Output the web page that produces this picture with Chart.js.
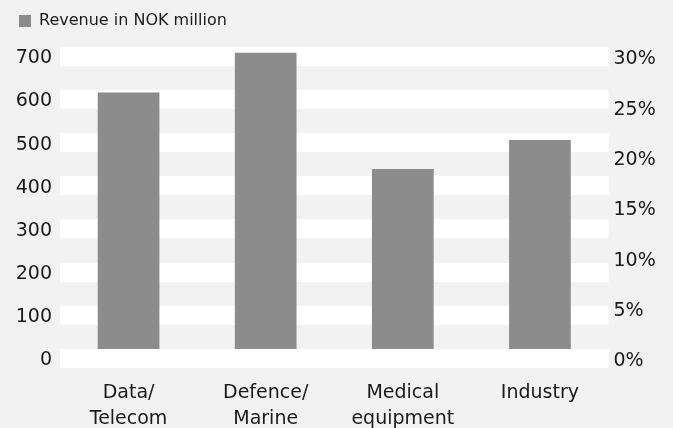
<!DOCTYPE html>
<html>
<head>
<meta charset="utf-8">
<script src="https://cdn.jsdelivr.net/npm/chart.js@4"></script>
<style>
  html, body { margin: 0; padding: 0; background: #f2f2f2; }
  #wrap { width: 673px; height: 428px; position: relative; }
</style>
</head>
<body>
<div id="wrap"><canvas id="c" width="673" height="428"></canvas></div>
<script>
const categories = [["Data/", "Telecom"], ["Defence/", "Marine"], ["Medical", "equipment"], ["Industry"]];
const revenue = [616, 708, 439, 506];
const leftTicks = [0, 100, 200, 300, 400, 500, 600, 700];
const rightTicks = [0, 5, 10, 15, 20, 25, 30];
const seriesName = "Revenue in NOK million";

const FONT = "'DejaVu Sans', sans-serif";
const TXT = "#1a1a1a";
const BAR = "#8c8c8c";

Chart.defaults.font.family = FONT;
Chart.defaults.color = TXT;

new Chart(document.getElementById('c'), {
  type: 'bar',
  data: {
    labels: categories,
    datasets: [{
      label: seriesName,
      data: revenue,
      backgroundColor: BAR,
      borderWidth: 0,
      barPercentage: 0.45,
      categoryPercentage: 1.0,
      yAxisID: 'y'
    }]
  },
  options: {
    responsive: false,
    animation: false,
    layout: { padding: { top: 3, left: 9, right: 0, bottom: 0 } },
    plugins: {
      tooltip: { enabled: false },
      legend: {
        position: 'top',
        align: 'start',
        labels: {
          boxWidth: 12,
          boxHeight: 12,
          padding: 10,
          font: { size: 16 },
          color: TXT
        }
      }
    },
    scales: {
      x: {
        grid: { display: false, drawTicks: false },
        border: { display: false },
        ticks: { font: { size: 19, lineHeight: 1.368 }, padding: 12, maxRotation: 0, autoSkip: false },
        afterFit: (a) => { a.height = 60; }
      },
      y: {
        position: 'left',
        min: -22,
        max: 740,
        afterBuildTicks: (a) => { a.ticks = leftTicks.map(v => ({ value: v })); },
        grid: { color: '#ffffff', lineWidth: 19, drawTicks: false },
        border: { display: false },
        ticks: { font: { size: 19 }, padding: 8, labelOffset: 2 },
        afterFit: (a) => { a.width = 51; }
      },
      y2: {
        position: 'right',
        min: -22 * 30 / 700,
        max: 740 * 30 / 700,
        afterBuildTicks: (a) => { a.ticks = rightTicks.map(v => ({ value: v })); },
        grid: { display: false, drawTicks: false },
        border: { display: false },
        ticks: { font: { size: 19 }, padding: 5, labelOffset: 3, callback: (v) => v + '%' },
        afterFit: (a) => { a.width = 64.5; }
      }
    }
  }
});
</script>
</body>
</html>
